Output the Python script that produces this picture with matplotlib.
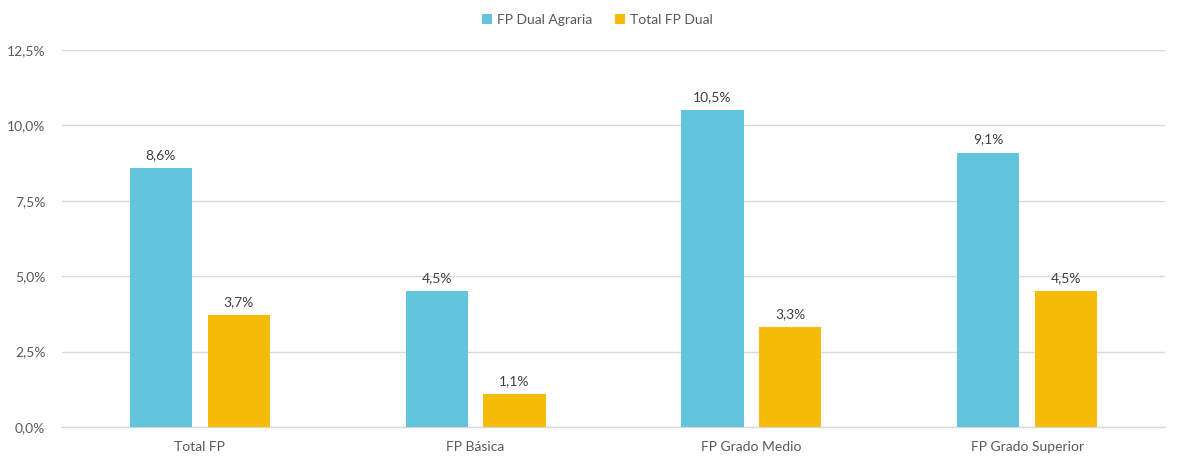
import matplotlib
matplotlib.use("Agg")
import matplotlib.pyplot as plt
import numpy as np
from matplotlib.ticker import FuncFormatter

categories = ["Total FP", "FP Básica", "FP Grado Medio", "FP Grado Superior"]
agraria = [8.6, 4.5, 10.5, 9.1]
total_dual = [3.7, 1.1, 3.3, 4.5]
series_names = ["FP Dual Agraria", "Total FP Dual"]

plt.rcParams['font.family'] = ['Lato', 'DejaVu Sans']
txt = "#595959"
blue = "#62C4DD"
yellow = "#F5BC09"

fig = plt.figure(figsize=(11.95, 4.72), dpi=100)
ax = fig.add_axes([62/1195, 1-427/472, (1165-62)/1195, (427-50)/472])

x = np.arange(len(categories))
w = 0.225
off = 0.141
b1 = ax.bar(x - off, agraria, w, color=blue, label=series_names[0], zorder=3)
b2 = ax.bar(x + off, total_dual, w, color=yellow, label=series_names[1], zorder=3)

def fmt(v):
    return f"{v:.1f}".replace(".", ",") + "%"

for bars, vals in ((b1, agraria), (b2, total_dual)):
    for r, v in zip(bars, vals):
        ax.annotate(fmt(v), (r.get_x() + r.get_width()/2, v), xytext=(0, 5),
                    textcoords="offset points", ha="center", va="bottom",
                    fontsize=10, color="#404040")

ax.set_xlim(-0.5, len(categories) - 0.5)
ax.set_ylim(0, 12.5)
ax.set_yticks(np.arange(0, 12.51, 2.5))
ax.yaxis.set_major_formatter(FuncFormatter(lambda v, p: fmt(v)))
ax.set_xticks(x)
ax.set_xticklabels(categories)
ax.tick_params(axis='both', length=0, colors=txt, labelsize=10)
ax.tick_params(axis='y', pad=12)
ax.tick_params(axis='x', pad=10)
ax.grid(axis='y', color="#D9D9D9", linewidth=1, zorder=0)
for s in ("top", "right", "left"):
    ax.spines[s].set_visible(False)
ax.spines["bottom"].set_color("#D9D9D9")
ax.spines["bottom"].set_linewidth(1)

leg = fig.legend(handles=[b1, b2], loc="center", bbox_to_anchor=(0.5, 1-20/472),
                 ncol=2, frameon=False, fontsize=10, handlelength=0.7, handleheight=0.7,
                 columnspacing=1.6, handletextpad=0.4)
for t in leg.get_texts():
    t.set_color(txt)

fig.savefig("out.png", dpi=100)
